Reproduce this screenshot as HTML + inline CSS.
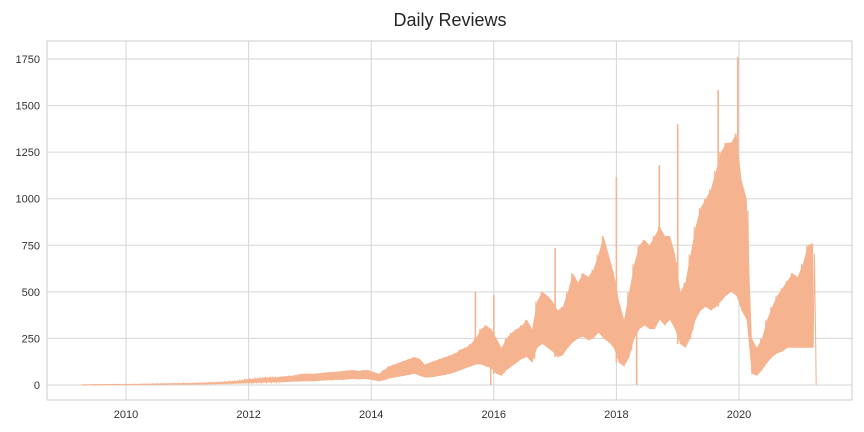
<!DOCTYPE html>
<html><head><meta charset="utf-8"><style>
body{margin:0;background:#fff;}
svg{display:block;font-family:"Liberation Sans",Arial,sans-serif;}
</style></head><body>
<svg id="chart" width="864" height="432">
<text x="450" y="26" text-anchor="middle" font-size="18" fill="#262626">Daily Reviews</text>
<g id="grid"></g>
<g id="series"></g>
<rect x="47" y="41" width="805" height="359" fill="none" stroke="#cccccc" stroke-width="1"/>
</svg>
<script>
const yTicks=[0,250,500,750,1000,1250,1500,1750];
const xTicks=[2010,2012,2014,2016,2018,2020];
const startYear=2009.25;
const lows=[0,0,0,0,0,1,1,1,1,
1,1,1,2,2,2,2,2,3,3,3,3,
3,4,4,4,5,5,6,6,7,8,9,10,
10,12,12,14,14,15,15,16,18,18,20,20,
20,22,24,25,25,28,28,30,32,30,32,30,
25,20,25,35,40,45,50,55,60,50,40,40,
45,50,55,60,70,80,90,100,110,110,100,90,
60,50,80,100,120,140,150,120,200,220,200,180,
150,160,200,230,250,260,240,250,280,250,230,200,
120,100,150,250,300,320,300,300,350,320,350,300,
220,200,250,350,400,420,400,420,450,480,500,480,
400,350,60,50,80,120,150,170,180,200,200,200,
200,200,200];
const highs=[2,2,3,3,3,3,4,4,4,
4,5,5,6,6,7,7,8,8,9,9,10,
10,11,12,13,14,15,16,18,20,22,25,30,
32,35,38,40,42,40,45,48,50,55,60,60,
60,62,65,68,70,72,75,78,80,75,80,80,
70,60,80,100,110,120,130,140,150,140,110,120,
130,140,150,160,170,190,200,220,250,300,320,300,
250,200,250,280,300,320,350,300,450,500,480,450,
400,420,500,600,550,600,580,620,700,800,700,600,
450,350,500,650,750,780,750,800,850,800,800,700,
500,550,700,850,950,1000,1050,1150,1250,1300,1300,1350,
1100,1000,250,200,250,350,420,480,520,560,600,580,
650,750,760];
const spikeYears=[2015.7,2016.0,2017.0,2018.0,2018.7,2019.0,2019.66,2019.98,2015.95,2018.33];
const spikeValues=[500,483,735,1116,1180,1400,1583,1760,0,0];
const endYear=2021.26;
const endValue=0;

const NS="http://www.w3.org/2000/svg";
const X0=47,X1=852,Y0=41,Y1=400;
function xs(yr){return 126+(yr-2010)*61.3;}
function ys(v){return 385-v*0.18629;}
const svg=document.getElementById('chart');
const grid=document.getElementById('grid');
const ser=document.getElementById('series');
function mk(tag,attrs,parent){const e=document.createElementNS(NS,tag);for(const k in attrs)e.setAttribute(k,attrs[k]);parent.appendChild(e);return e;}
yTicks.forEach(t=>{
  const l=mk('line',{x1:X0,x2:X1,y1:ys(t),y2:ys(t),stroke:'#d6d6d6','stroke-width':1},grid);
  
  
  const tx=mk('text',{x:40,y:ys(t)+4,'text-anchor':'end','font-size':11,fill:'#333'},svg);
  tx.textContent=t;
  
  
});
xTicks.forEach(t=>{
  const l=mk('line',{x1:xs(t),x2:xs(t),y1:Y0,y2:Y1,stroke:'#d6d6d6','stroke-width':1},grid);
  
  
  const tx=mk('text',{x:xs(t),y:418,'text-anchor':'middle','font-size':11,fill:'#333'},svg);
  tx.textContent=t;
  
  
});
const col='#f5b48f';
let up=[],dn=[];
for(let i=0;i<lows.length;i++){
  const yr=startYear+i/12+1/24;
  up.push(xs(yr).toFixed(1)+','+ys(highs[i]).toFixed(1));
  dn.unshift(xs(yr).toFixed(1)+','+ys(lows[i]).toFixed(1));
}
const band=mk('polygon',{points:up.concat(dn).join(' '),fill:col},ser);


let pts=[];
for(let i=0;i<lows.length;i++){
  const yr=startYear+i/12;
  pts.push(xs(yr+1/48).toFixed(1)+','+ys(highs[i]).toFixed(1));
  pts.push(xs(yr+2/48).toFixed(1)+','+ys(lows[i]).toFixed(1));
  pts.push(xs(yr+3/48).toFixed(1)+','+ys(highs[i]*0.9+lows[i]*0.1).toFixed(1));
  pts.push(xs(yr+4/48).toFixed(1)+','+ys(lows[i]*0.9+highs[i]*0.1).toFixed(1));
}
pts.push(xs(endYear).toFixed(1)+','+ys(endValue).toFixed(1));
const line=mk('polyline',{points:pts.join(' '),fill:'none',stroke:col,'stroke-width':1.1},ser);


spikeYears.forEach((yr,k)=>{
  const i=Math.max(0,Math.min(lows.length-1,Math.floor((yr-startYear)*12)));
  const base=spikeValues[k]>highs[i]?lows[i]:highs[i];
  const s=mk('line',{x1:xs(yr),x2:xs(yr),y1:ys(base),y2:ys(spikeValues[k]),stroke:col,'stroke-width':1.6},ser);
  
  
});
</script>
</body></html>
